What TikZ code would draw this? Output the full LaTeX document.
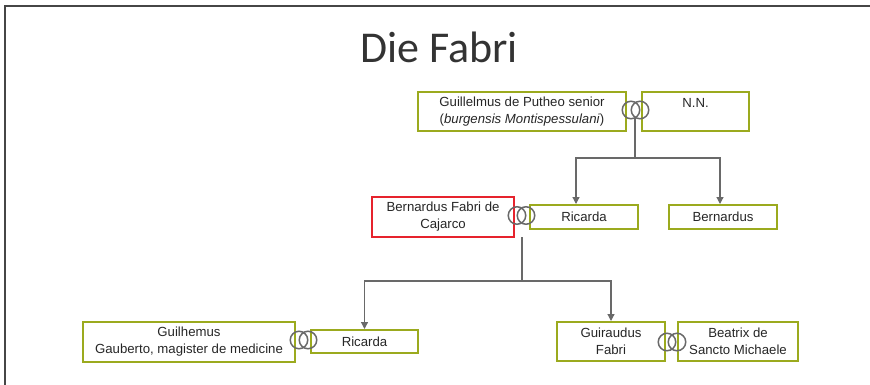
\documentclass[tikz,border=0pt]{standalone}
\usepackage{fontspec}
\setmainfont{Liberation Sans}
\newfontfamily\titlefont{Carlito}
\usepackage{tikz}
\usetikzlibrary{arrows.meta}
\usetikzlibrary{positioning}
\definecolor{olive}{RGB}{155,170,30}
\definecolor{redline}{RGB}{230,35,45}
\definecolor{linkgray}{RGB}{105,105,105}
\definecolor{framegray}{RGB}{70,70,70}
\tikzset{person/.style = {draw = olive, line width = 2pt, rectangle, align = center, inner sep = 0,
          font = \fontsize{13.2}{17}\selectfont, text = black!85}}
\tikzset{focus/.style = {person, draw = redline}}
\tikzset{ring/.style = {draw = linkgray, circle, line width = 1.5pt, inner sep = 0, minimum size = 17.5pt}}
\tikzset{link/.style = {draw = linkgray, line width = 1.2pt}}
\tikzset{child/.style = {link, -{Triangle[length = 7pt, width = 7pt]}}}

\begin{document}
\begin{tikzpicture}[x = 1pt, y = -1pt]
          \useasboundingbox (0, 0) rectangle (870, 384);
          \draw [framegray, line width = 1.5pt] (5, 390) -- (5, 6) -- (875, 6);

          \node [font = \titlefont\fontsize{44}{48}\selectfont, text = black!80] (title) at (439, 47) {Die Fabri};

          % first generation
          \node [person, minimum width = 208pt, minimum height = 39pt] (guil) at (522, 111.5)
                {Guillelmus de Putheo senior\\(\textit{burgensis Montispessulani})};
          \node [person, minimum width = 107pt, minimum height = 39pt] (nn) at (695.5, 111.5) {N.N.\\\mbox{}};
          \node [ring] (ringA1) at (631, 110) {};
          \node [ring] (ringA2) at (640, 110) {};

          % second generation
          \node [focus, minimum width = 142pt, minimum height = 40pt] (bern) at (443, 217)
                {Bernardus Fabri de\\Cajarco};
          \node [person, minimum width = 108pt, minimum height = 24pt] (ric1) at (584, 217) {Ricarda};
          \node [person, minimum width = 108pt, minimum height = 24pt] (bernd) at (723, 217) {Bernardus};
          \node [ring] (ringB1) at (517, 215.5) {};
          \node [ring] (ringB2) at (526, 215.5) {};

          % third generation
          \node [person, minimum width = 212pt, minimum height = 40pt] (guilh) at (189, 342)
                {Guilhemus\\Gauberto, magister de medicine};
          \node [person, minimum width = 107pt, minimum height = 23pt] (ric2) at (364.5, 341.5) {Ricarda};
          \node [ring] (ringC1) at (299, 340) {};
          \node [ring] (ringC2) at (308, 340) {};
          \node [person, minimum width = 108pt, minimum height = 39pt] (guir) at (611, 341.5) {Guiraudus\\Fabri};
          \node [person, minimum width = 120pt, minimum height = 39pt] (beat) at (738, 341.5)
                {Beatrix de\\Sancto Michaele};
          \node [ring] (ringD1) at (667, 342) {};
          \node [ring] (ringD2) at (677, 342) {};

          % descent lines
          \coordinate (dropA) at (635, 118);
          \coordinate (joinA) at (635, 158);
          \draw [link] (dropA) -- (joinA);
          \draw [child] (joinA) -| ([xshift = -8pt] ric1.north);
          \draw [child] (joinA) -| ([xshift = -3pt] bernd.north);

          \coordinate (dropB) at (522, 237);
          \coordinate (joinB) at (522, 281);
          \draw [link] (dropB) -- (joinB);
          \draw [child] (joinB) -| (ric2.north);
          \draw [child] (joinB) -| (guir.north);
        \end{tikzpicture}
\end{document}
